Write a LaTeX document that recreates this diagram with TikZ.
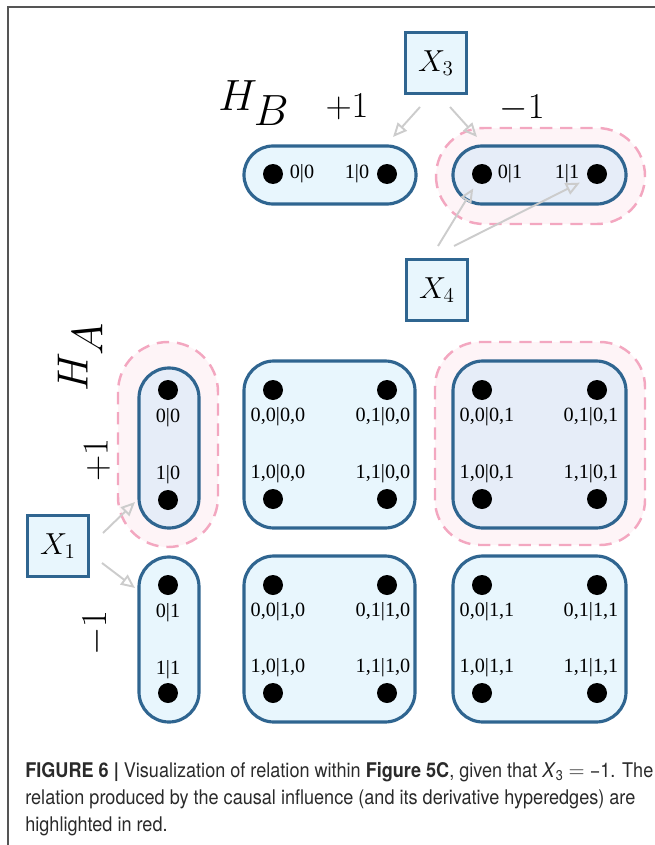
\documentclass[tikz,border=0pt]{standalone}
\usepackage{fontspec}
\usetikzlibrary{arrows.meta,calc}

\newfontfamily\labelfont{Liberation Serif}
\newfontfamily\capfont[FakeStretch=0.895]{TeX Gyre Heros}

\definecolor{hedgeblue}{HTML}{2F6590}
\definecolor{hedgefill}{HTML}{E8F6FD}
\definecolor{hedgehl}{HTML}{E6EDF8}
\definecolor{relpink}{HTML}{F3A7C0}
\definecolor{relfill}{HTML}{FEF4F7}
\definecolor{arrowgray}{HTML}{CCCCCC}
\definecolor{framegray}{HTML}{555555}
\definecolor{captext}{HTML}{2A2A2A}

\tikzset{
  dot/.style={circle, fill=black, minimum size=0.4cm, inner sep=0pt},
  varbox/.style={draw=hedgeblue, fill=hedgefill, line width=1.6pt, minimum size=1.22cm, inner sep=0pt, font=\fontsize{18}{20}\selectfont},
  hedge/.style={draw=hedgeblue, fill=hedgefill, line width=1.8pt},
  hedgehl/.style={hedge, fill=hedgehl},
  relation/.style={draw=relpink, fill=relfill, line width=1.4pt, dash pattern=on 7pt off 4.5pt},
  infl/.style={draw=arrowgray, line width=1.1pt, -{Triangle[open, length=8pt, width=7pt]}},
  lab/.style={font=\labelfont\fontsize{11.5}{12}\selectfont, inner sep=0pt},
  sign/.style={font=\fontsize{20}{22}\selectfont, inner sep=0pt},
  hname/.style={font=\fontsize{36}{40}\selectfont, inner sep=0pt},
}

\begin{document}
\begin{tikzpicture}[x=0.02cm, y=-0.02cm]
		\useasboundingbox (0,0) rectangle (655,845);
		
		%page frame
		\draw[framegray, line width=0.9pt] (655,7) -- (8,7) -- (8,845);
		
		%relation (highlighted in red)
		\filldraw[relation, rounded corners=0.96cm] (436,128) rectangle (645,224);
		\filldraw[relation, rounded corners=1cm] (118,342) rectangle (218,547);
		\filldraw[relation, rounded corners=0.9cm] (435,342) rectangle (645,545);
		
		%hyperedges of H_B
		\filldraw[hedge, rounded corners=0.58cm] (244,146) rectangle (416,204);
		\filldraw[hedgehl, rounded corners=0.58cm] (453,146) rectangle (626,204);
		
		%hyperedges of H_A
		\filldraw[hedgehl, rounded corners=0.6cm] (139,368) rectangle (199,528);
		\filldraw[hedge, rounded corners=0.6cm] (139,557) rectangle (199,722);
		
		%product hyperedges
		\filldraw[hedge, rounded corners=0.6cm] (244,361) rectangle (415,528);
		\filldraw[hedgehl, rounded corners=0.6cm] (453,361) rectangle (626,528);
		\filldraw[hedge, rounded corners=0.6cm] (244,556) rectangle (415,722);
		\filldraw[hedge, rounded corners=0.6cm] (453,556) rectangle (626,722);
		
		%titles
		\node[hname] (hb) at (254,103) {$H_B$};
		\node[sign] (hbp) at (347,107) {$+1$};
		\node[sign] (hbm) at (522,108) {$-1$};
		\node[hname, rotate=90] (ha) at (80,357) {$H_A$};
		\node[sign, rotate=90] (hap) at (97,460) {$+1$};
		\node[sign, rotate=90] (ham) at (96,633) {$-1$};
		
		%variables
		\node[varbox] (x3) at (436,63) {$X_3$};
		\node[varbox] (x4) at (437,290) {$X_4$};
		\node[varbox] (x1) at (58,546) {$X_1$};
		
		%states of H_B
		\node[dot] (b00) at (273,174) {};
		\node[dot] (b10) at (387,174) {};
		\node[dot] (b01) at (482,174) {};
		\node[dot] (b11) at (597,174) {};
		\node[lab] (lb00) at (302,174) {0|0};
		\node[lab] (lb10) at (357,174) {1|0};
		\node[lab] (lb01) at (510,174) {0|1};
		\node[lab] (lb11) at (567,174) {1|1};
		
		%states of H_A
		\node[dot] (a00) at (168,390) {};
		\node[dot] (a10) at (168,500) {};
		\node[dot] (a01) at (168,585) {};
		\node[dot] (a11) at (168,693) {};
		\node[lab] (la00) at (168,418) {0|0};
		\node[lab] (la10) at (168,475) {1|0};
		\node[lab] (la01) at (168,613) {0|1};
		\node[lab] (la11) at (168,670) {1|1};
		
		%states of the products
		\node[dot] (p1) at (273,390) {};
		\node[dot] (p2) at (387,390) {};
		\node[dot] (p3) at (273,499) {};
		\node[dot] (p4) at (387,499) {};
		\node[lab] at (278,417) {0,0|0,0};
		\node[lab] at (383,417) {0,1|0,0};
		\node[lab] at (278,474) {1,0|0,0};
		\node[lab] at (383,474) {1,1|0,0};
		
		\node[dot] (q1) at (482,390) {};
		\node[dot] (q2) at (597,390) {};
		\node[dot] (q3) at (482,499) {};
		\node[dot] (q4) at (597,499) {};
		\node[lab] at (487,417) {0,0|0,1};
		\node[lab] at (591,417) {0,1|0,1};
		\node[lab] at (487,474) {1,0|0,1};
		\node[lab] at (591,474) {1,1|0,1};
		
		\node[dot] (r1) at (273,585) {};
		\node[dot] (r2) at (387,585) {};
		\node[dot] (r3) at (273,693) {};
		\node[dot] (r4) at (387,693) {};
		\node[lab] at (278,612) {0,0|1,0};
		\node[lab] at (383,612) {0,1|1,0};
		\node[lab] at (278,668) {1,0|1,0};
		\node[lab] at (383,668) {1,1|1,0};
		
		\node[dot] (s1) at (482,585) {};
		\node[dot] (s2) at (597,585) {};
		\node[dot] (s3) at (482,693) {};
		\node[dot] (s4) at (597,693) {};
		\node[lab] at (487,612) {0,0|1,1};
		\node[lab] at (591,612) {0,1|1,1};
		\node[lab] at (487,668) {1,0|1,1};
		\node[lab] at (591,668) {1,1|1,1};
		
		%influences
		\coordinate (x3l) at (420,107);
		\coordinate (x3r) at (450,107);
		\coordinate (hbl) at (393,137);
		\coordinate (hbr) at (477,137);
		\coordinate (x4l) at (438,246);
		\coordinate (x4r) at (454,246);
		\coordinate (x1u) at (103,533);
		\coordinate (x1d) at (102,563);
		\coordinate (hau) at (135,502);
		\coordinate (had) at (135,588);
		\draw[infl] (x3l) -- (hbl);
		\draw[infl] (x3r) -- (hbr);
		\draw[infl] (x4l) -- ($(b01)!0.2!(x4l)$);
		\draw[infl] (x4r) -- ($(b11)!0.12!(x4r)$);
		\draw[infl] (x1u) -- (hau);
		\draw[infl] (x1d) -- (had);
		
		%caption
		\node[anchor=north west, align=left, inner sep=0pt, text=captext,
		      font=\capfont\fontsize{11.5}{15.3}\selectfont] (cap) at (25,762)
		  {\textbf{FIGURE 6 |} Visualization of relation within \textbf{Figure 5C}, given that \textit{X}\textsubscript{3} $=$ −1. The\\
		   relation produced by the causal influence (and its derivative hyperedges) are\\
		   highlighted in red.};
		
		\end{tikzpicture}
\end{document}
